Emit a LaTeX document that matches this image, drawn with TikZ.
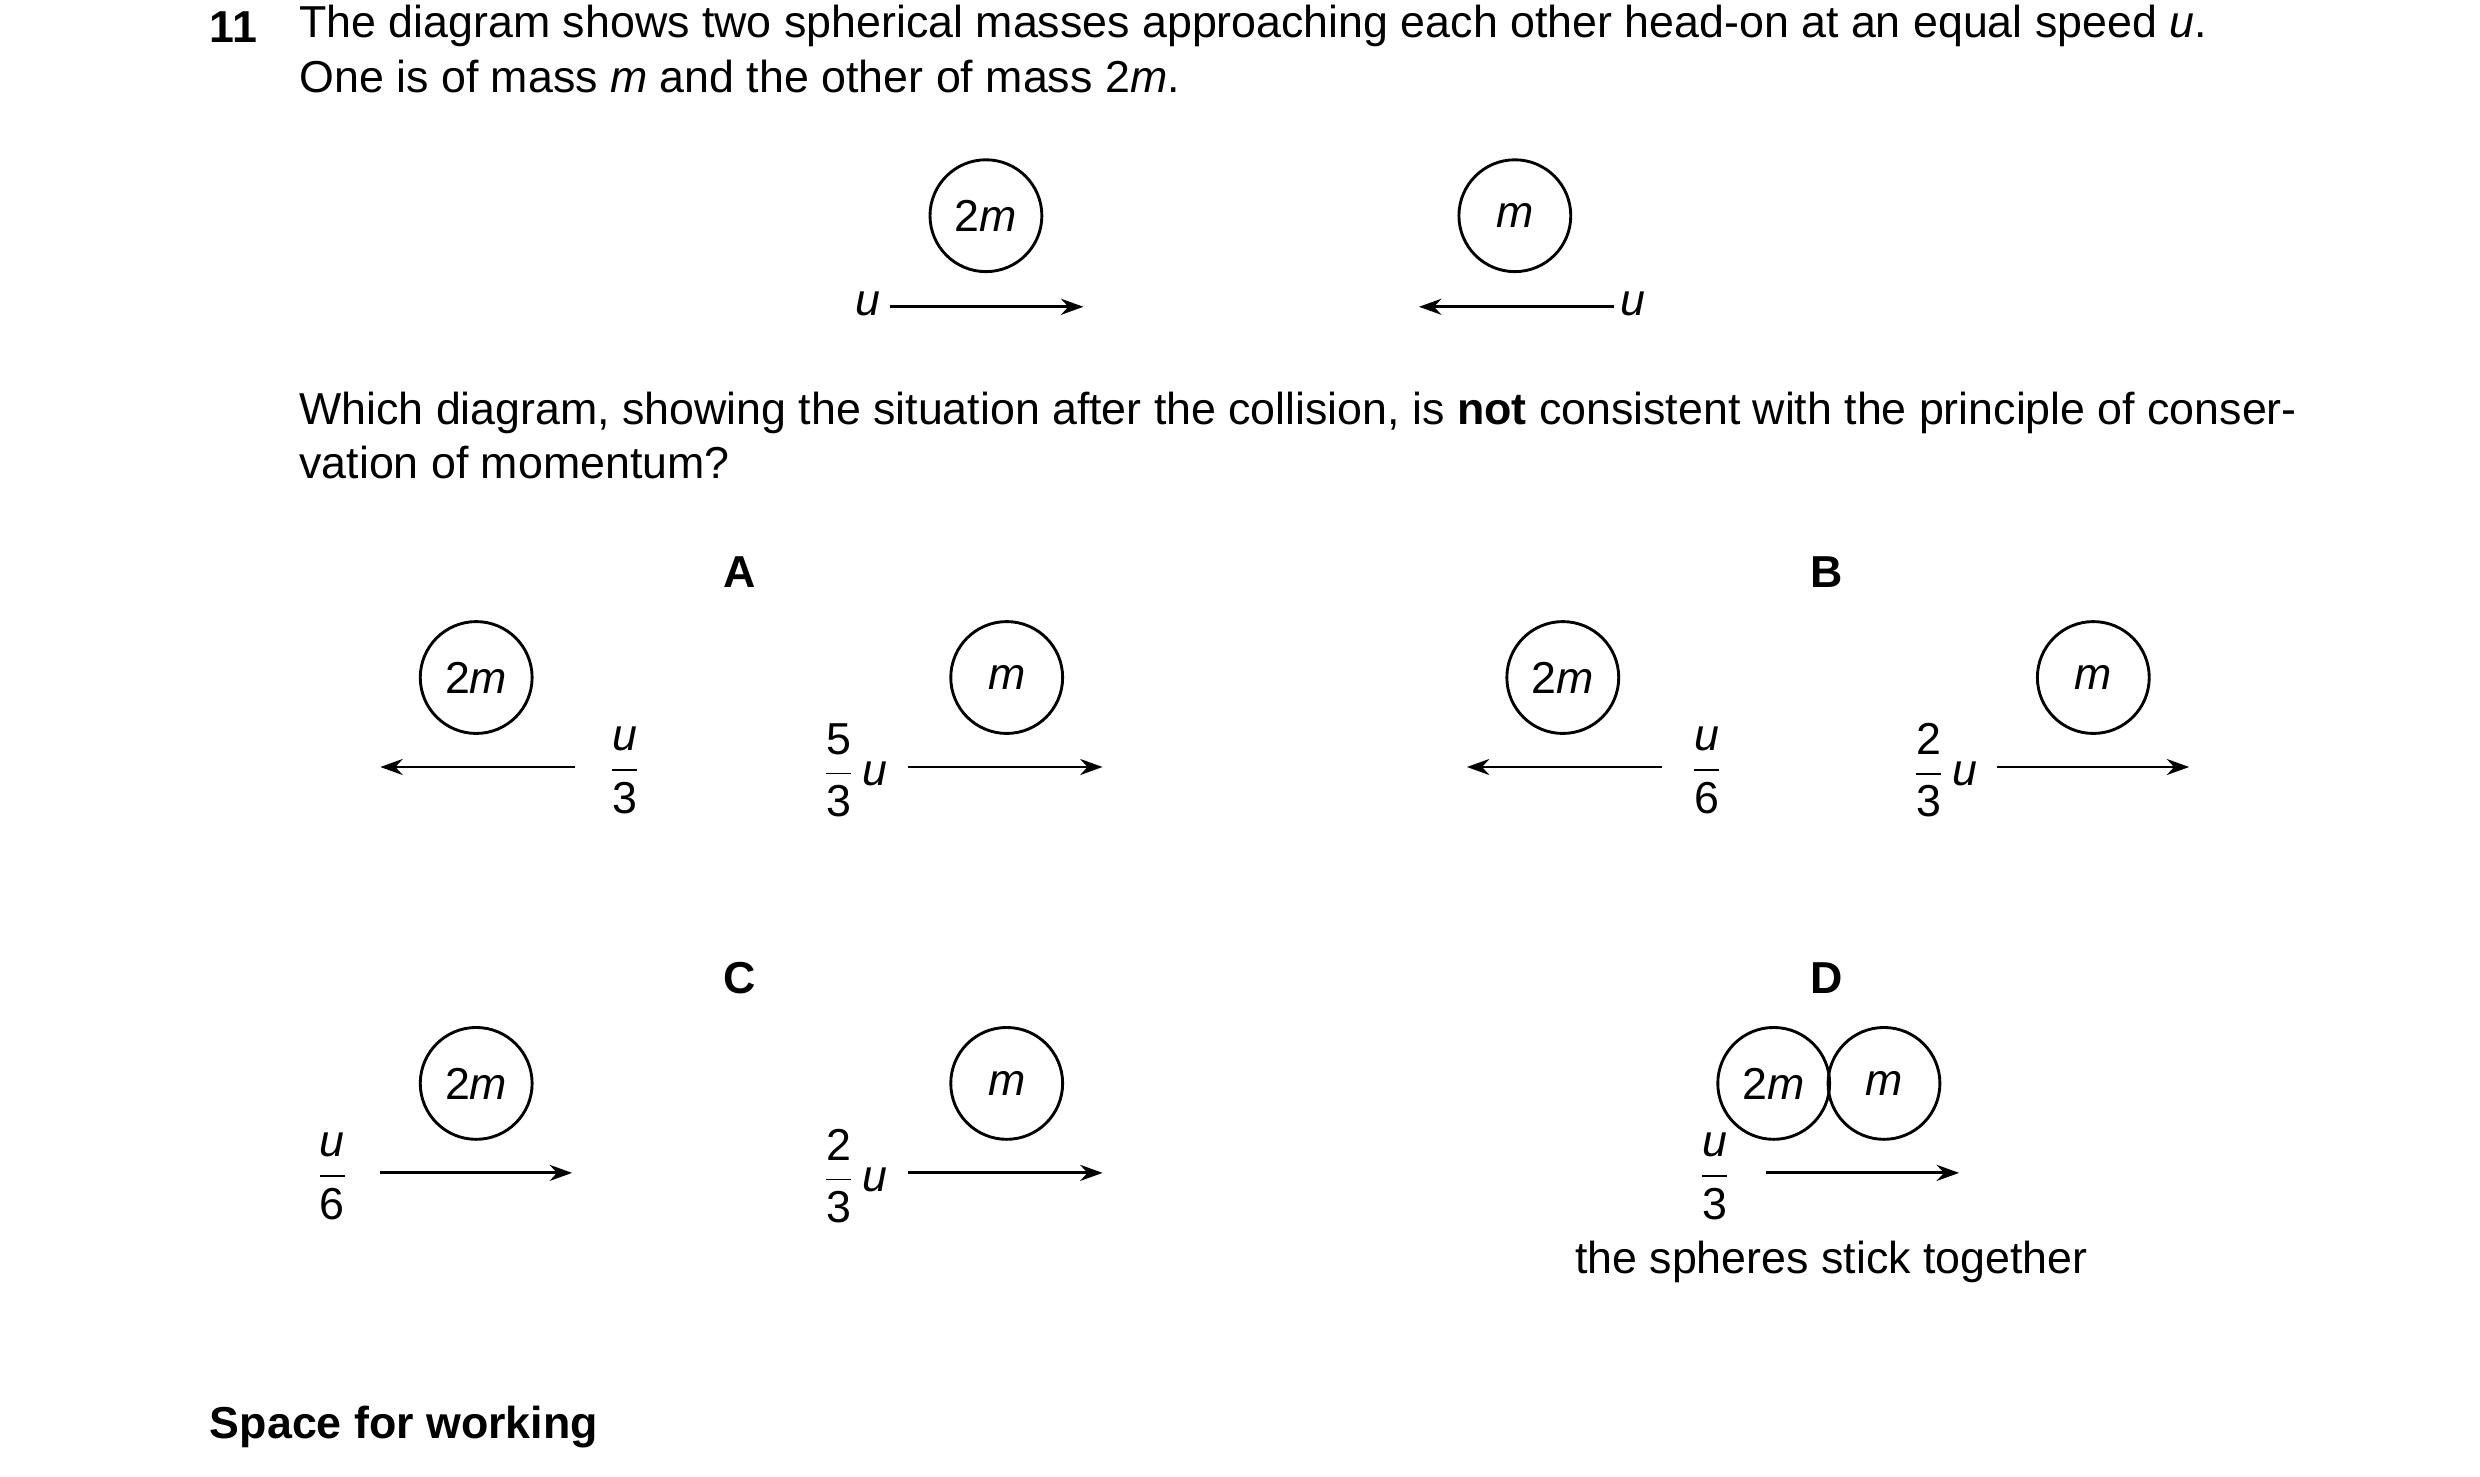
\documentclass[tikz,border=0pt]{standalone}
\usepackage{fontspec}
\setmainfont{Liberation Sans}
\usetikzlibrary{arrows.meta}
\newcommand{\fr}[2]{$\displaystyle\frac{\mbox{#1}}{\mbox{#2}}$}
\begin{document}
\begin{tikzpicture}[x=0.5pt,y=-0.5pt,
  every node/.style={font=\fontsize{14}{17}\selectfont,inner sep=0pt},
  ball/.style={circle,draw,line width=0.9pt,minimum size=35pt},
  arr/.style={line width=0.9pt,-{Stealth[length=7pt,width=5pt]}},
  lab/.style={font=\fontsize{14}{17}\selectfont\bfseries}]
\useasboundingbox (0,0) rectangle (1552,924);
\node[anchor=west,lab] (n11) at (131,17) {11};
\node[anchor=north west,text width=625pt,align=justify] (q1) at (187,3) {The diagram shows two spherical masses approaching each other head-on at an equal speed \textit{u}.\\One is of mass \textit{m} and the other of mass 2\textit{m}.};
\node[anchor=north west,text width=625pt,align=justify] (q2) at (187,245) {Which diagram, showing the situation after the collision, is \textbf{not} consistent with the principle of conservation of momentum?};
% top
\node[ball] (t1) at (617,135) {2\textit{m}};
\node[ball] (t2) at (948,135) {\textit{m}};
\node (tu1) at (543,190) {\textit{u}};
\coordinate (ta1) at (557,192); \coordinate (tb1) at (678,192);
\draw[arr] (ta1) -- (tb1);
\node (tu2) at (1022,190) {\textit{u}};
\coordinate (ta2) at (1010,192); \coordinate (tb2) at (888,192);
\draw[arr] (ta2) -- (tb2);
% A
\node[lab] (A) at (463,358) {A};
\node[ball] (a1) at (298,424) {2\textit{m}};
\coordinate (aa1) at (360,480); \coordinate (ab1) at (238,480);
\draw[arr] (aa1) -- (ab1);
\node (af1) at (391,482) {\fr{\itshape u}{3}};
\node (af2) at (535,482) {\fr{5}{3}\,\textit{u}};
\coordinate (aa2) at (568,480); \coordinate (ab2) at (690,480);
\draw[arr] (aa2) -- (ab2);
\node[ball] (a2) at (630,424) {\textit{m}};
% B
\node[lab] (B) at (1143,358) {B};
\node[ball] (b1) at (978,424) {2\textit{m}};
\coordinate (ba1) at (1040,480); \coordinate (bb1) at (918,480);
\draw[arr] (ba1) -- (bb1);
\node (bf1) at (1068,482) {\fr{\itshape u}{6}};
\node (bf2) at (1217,482) {\fr{2}{3}\,\textit{u}};
\coordinate (ba2) at (1250,480); \coordinate (bb2) at (1370,480);
\draw[arr] (ba2) -- (bb2);
\node[ball] (b2) at (1310,424) {\textit{m}};
% C
\node[lab] (C) at (463,612) {C};
\node[ball] (c1) at (298,678) {2\textit{m}};
\node (cf1) at (208,736) {\fr{\itshape u}{6}};
\coordinate (ca1) at (238,734); \coordinate (cb1) at (358,734);
\draw[arr] (ca1) -- (cb1);
\node (cf2) at (535,736) {\fr{2}{3}\,\textit{u}};
\coordinate (ca2) at (568,734); \coordinate (cb2) at (690,734);
\draw[arr] (ca2) -- (cb2);
\node[ball] (c2) at (630,678) {\textit{m}};
% D
\node[lab] (D) at (1143,612) {D};
\node[ball] (d1) at (1110,678) {2\textit{m}};
\node[ball] (d2) at (1179,678) {\textit{m}};
\node (df) at (1073,736) {\fr{\itshape u}{3}};
\coordinate (da) at (1105,734); \coordinate (db) at (1226,734);
\draw[arr] (da) -- (db);
\node (dt) at (1146,790) {the spheres stick together};
\node[anchor=west,lab] (sw) at (131,893) {Space for working};
\end{tikzpicture}
\end{document}
